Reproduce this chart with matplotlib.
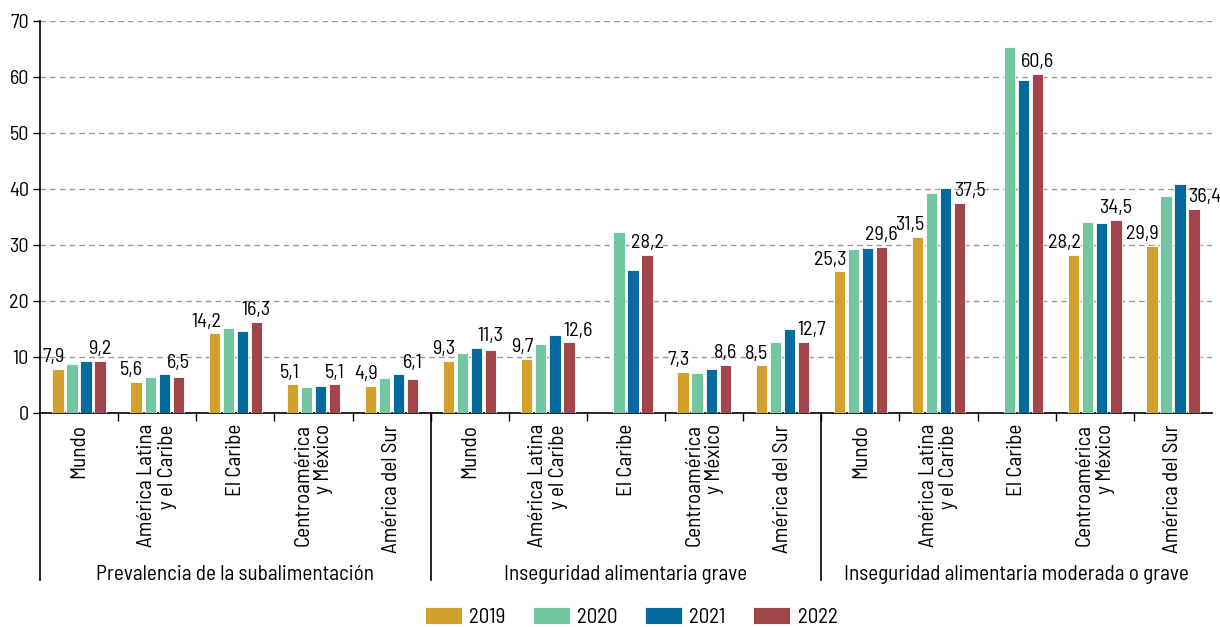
import numpy as np
import matplotlib
matplotlib.use('Agg')
import matplotlib.pyplot as plt

plt.rcParams['font.family'] = ['Barlow Semi Condensed', 'DejaVu Sans']
plt.rcParams['font.weight'] = 'normal'
FS = 14.5

years = ['2019', '2020', '2021', '2022']
colors = ['#D4A02C', '#72C6A0', '#046A9E', '#A3464C']
groups = ['Prevalencia de la subalimentación',
          'Inseguridad alimentaria grave',
          'Inseguridad alimentaria moderada o grave']
regions = ['Mundo', 'América Latina\ny el Caribe', 'El Caribe',
           'Centroamérica\n y México', 'América del Sur']

# values per year, 15 bars each (3 indicators x 5 regions)
v2019 = [7.9, 5.6, 14.2, 5.1, 4.9,
         9.3, 9.7, np.nan, 7.3, 8.5,
         25.3, 31.5, np.nan, 28.2, 29.9]
v2020 = [8.8, 6.4, 15.1, 4.7, 6.2,
         10.7, 12.4, 32.3, 7.2, 12.6,
         29.3, 39.2, 65.3, 34.1, 38.7]
v2021 = [9.3, 6.9, 14.6, 4.9, 6.9,
         11.6, 13.9, 25.6, 7.9, 15.0,
         29.5, 40.2, 59.4, 34.0, 40.9]
v2022 = [9.2, 6.5, 16.3, 5.1, 6.1,
         11.3, 12.6, 28.2, 8.6, 12.7,
         29.6, 37.5, 60.6, 34.5, 36.4]
series = [v2019, v2020, v2021, v2022]

def fmt(v):
    return ('%.1f' % v).replace('.', ',')

fig = plt.figure(figsize=(12.2, 6.27), dpi=100)
ax = fig.add_axes([40/1220, 1-413/627, (1212-40)/1220, (413-21)/627])

n = len(v2019)
x = np.arange(n)
pitch = 0.18
width = 0.145
offsets = (np.arange(4) - 1.5) * pitch
bars = []
for k in range(4):
    b = ax.bar(x + offsets[k], series[k], width, color=colors[k],
               edgecolor='white', linewidth=0.6, label=years[k], zorder=3)
    bars.append(b)

# value labels: 2019 and 2022 only
for i in range(n):
    a = v2019[i]
    if not np.isnan(a):
        ax.annotate(fmt(a), (x[i] + offsets[0] + width/2, a),
                    xytext=(1, 2), textcoords='offset points',
                    ha='right', va='bottom', fontsize=FS)
    d = v2022[i]
    c = v2021[i]
    if c - d > 1:
        ax.annotate(fmt(d), (x[i] + offsets[3] - width/2, d),
                    xytext=(0, 2), textcoords='offset points',
                    ha='left', va='bottom', fontsize=FS)
    else:
        ax.annotate(fmt(d), (x[i] + offsets[3], max(c, d)),
                    xytext=(0, 2), textcoords='offset points',
                    ha='center', va='bottom', fontsize=FS)

ax.set_xlim(-0.5, n - 0.5)
ax.set_ylim(0, 70)
ax.set_yticks(range(0, 71, 10))
ax.tick_params(axis='y', labelsize=FS, length=5, width=1, pad=3)
ax.grid(axis='y', linestyle=(0, (4, 3)), color='#999999', linewidth=1, zorder=0)

for s in ['top', 'right']:
    ax.spines[s].set_visible(False)
ax.spines['left'].set_linewidth(1.2)
ax.spines['bottom'].set_linewidth(1.2)

# category labels at centres, ticks at boundaries
ax.set_xticks(x)
ax.set_xticklabels(regions * 3, rotation=90, fontsize=15.2, linespacing=1.1)
for t in ax.get_xticklabels():
    t.set_multialignment('right')
ax.tick_params(axis='x', length=0, pad=8)
ax.set_xticks(np.arange(0.5, n - 1, 1), minor=True)
ax.tick_params(axis='x', which='minor', length=6, width=1)

tr = ax.get_xaxis_transform()
for xs in [-0.5, 4.5, 9.5]:
    ax.plot([xs, xs], [0, -0.425], color='black', lw=1.2, transform=tr,
            clip_on=False)
for g, name in enumerate(groups):
    ax.text(g * 5 + 2, -0.413, name, transform=tr, ha='center', va='center',
            fontsize=15.2)

fig.legend(handles=bars, labels=years, loc='center', ncol=4,
           bbox_to_anchor=(631/1220, 1-617/627), frameon=False, fontsize=15.2,
           handlelength=1.75, handleheight=0.85, handletextpad=0.35,
           columnspacing=1.3)

fig.savefig('out.png', dpi=100)
